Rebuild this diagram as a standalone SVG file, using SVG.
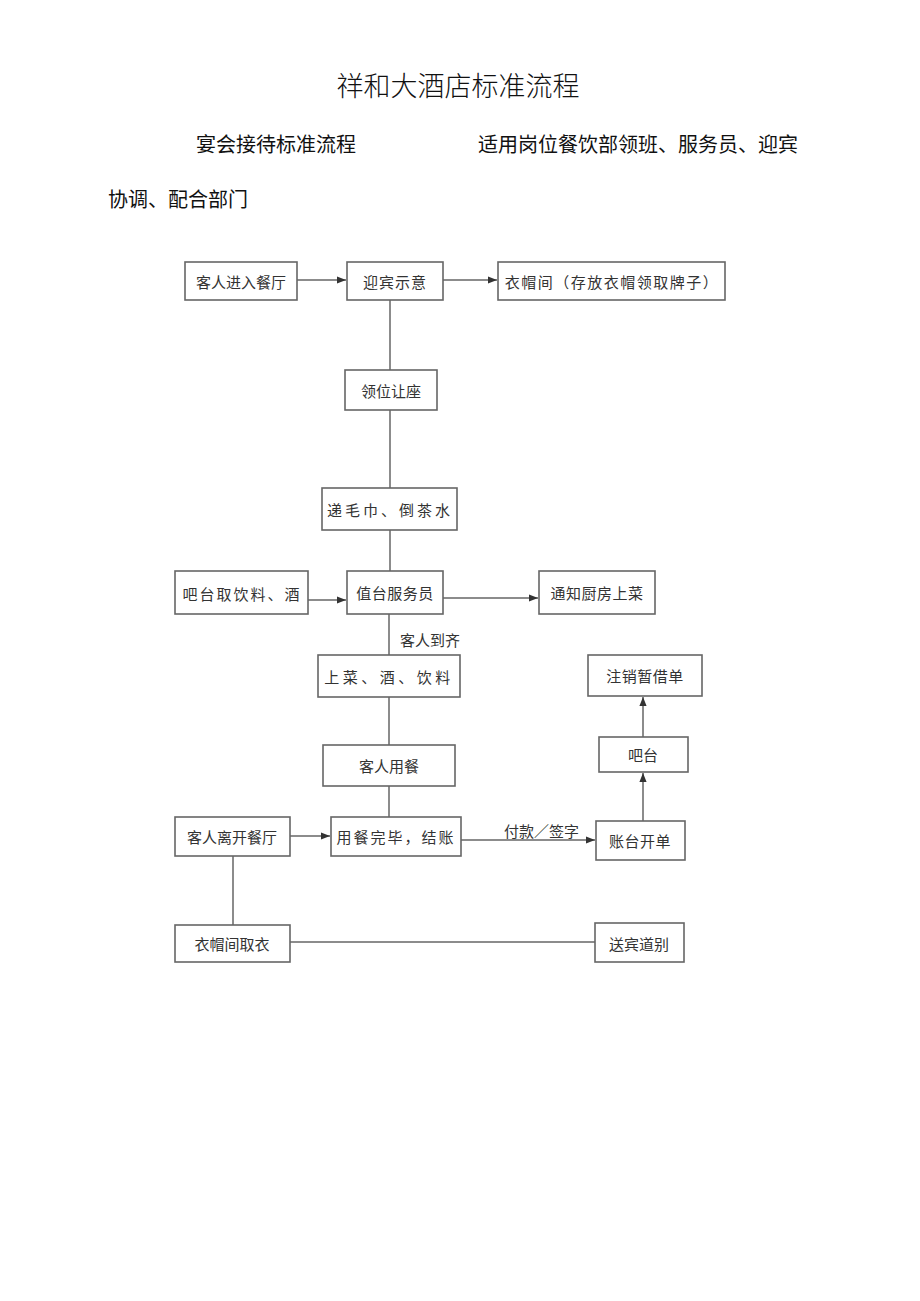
<svg xmlns="http://www.w3.org/2000/svg" width="920" height="1301" viewBox="0 0 920 1301">
<defs>
<marker id="ah" viewBox="0 0 10 10" refX="10" refY="5" markerWidth="9" markerHeight="9" markerUnits="userSpaceOnUse" orient="auto"><path d="M0,1 L10,5 L0,9 Z" fill="#333"/></marker>
<style>
.hd{font-family:"Noto Sans CJK SC","Liberation Sans",sans-serif;fill:#111;}
.box{fill:#fff;stroke:#666;stroke-width:1.6;}
.t{font-family:"Noto Sans CJK SC","Liberation Serif",serif;font-size:15px;fill:#333;text-anchor:middle;dominant-baseline:central;}
.ln{stroke:#666;stroke-width:1.5;fill:none;}
.lb{font-family:"Noto Sans CJK SC","Liberation Serif",serif;font-size:15px;fill:#333;}
</style>
</defs>
<rect width="920" height="1301" fill="#fff"/>
<text class="hd" x="458" y="96" font-size="27" text-anchor="middle" font-weight="300">祥和大酒店标准流程</text>
<text class="hd" x="196" y="152" font-size="20">宴会接待标准流程</text>
<text class="hd" x="478" y="152" font-size="20">适用岗位餐饮部领班、服务员、迎宾</text>
<text class="hd" x="108" y="207" font-size="20">协调、配合部门</text>

<g id="connectors">
<line class="ln" x1="297" y1="280" x2="346" y2="280" marker-end="url(#ah)"/>
<line class="ln" x1="443" y1="280" x2="497" y2="280" marker-end="url(#ah)"/>
<line class="ln" x1="390" y1="300" x2="390" y2="370"/>
<line class="ln" x1="390" y1="410" x2="390" y2="488"/>
<line class="ln" x1="390" y1="530" x2="390" y2="571"/>
<line class="ln" x1="308" y1="600" x2="346" y2="600" marker-end="url(#ah)"/>
<line class="ln" x1="443" y1="598" x2="538" y2="598" marker-end="url(#ah)"/>
<line class="ln" x1="389" y1="614" x2="389" y2="655"/>
<text class="lb" x="400" y="646">客人到齐</text>
<line class="ln" x1="389" y1="697" x2="389" y2="745"/>
<line class="ln" x1="389" y1="786" x2="389" y2="817"/>
<line class="ln" x1="290" y1="836" x2="330" y2="836" marker-end="url(#ah)"/>
<line class="ln" x1="461" y1="840" x2="595" y2="840" marker-end="url(#ah)"/>
<text class="lb" x="504" y="837">付款／签字</text>
<line class="ln" x1="643" y1="821" x2="643" y2="773" marker-end="url(#ah)"/>
<line class="ln" x1="643" y1="737" x2="643" y2="697" marker-end="url(#ah)"/>
<line class="ln" x1="233" y1="856" x2="233" y2="925"/>
<line class="ln" x1="290" y1="942" x2="595" y2="942"/>
</g>

<g id="n1"><rect class="box" x="185" y="262" width="112" height="38"/><text class="t" x="241" y="281">客人进入餐厅</text></g>
<g id="n2"><rect class="box" x="347" y="262" width="96" height="38"/><text class="t" x="395" y="281" letter-spacing="1">迎宾示意</text></g>
<g id="n3"><rect class="box" x="498" y="262" width="227" height="38"/><text class="t" x="612" y="281" letter-spacing="1.5">衣帽间（存放衣帽领取牌子）</text></g>
<g id="n4"><rect class="box" x="345" y="370" width="92" height="40"/><text class="t" x="391" y="390">领位让座</text></g>
<g id="n5"><rect class="box" x="322" y="488" width="135" height="42"/><text class="t" x="390" y="509" letter-spacing="3">递毛巾、倒茶水</text></g>
<g id="n6"><rect class="box" x="175" y="571" width="133" height="43"/><text class="t" x="242" y="593" letter-spacing="2">吧台取饮料、酒</text></g>
<g id="n7"><rect class="box" x="347" y="571" width="96" height="43"/><text class="t" x="395" y="592" letter-spacing="0.5">值台服务员</text></g>
<g id="n8"><rect class="box" x="539" y="571" width="116" height="43"/><text class="t" x="597" y="592" letter-spacing="0.5">通知厨房上菜</text></g>
<g id="n9"><rect class="box" x="318" y="655" width="142" height="42"/><text class="t" x="389" y="676" letter-spacing="3.5">上菜、酒、饮料</text></g>
<g id="n10"><rect class="box" x="588" y="655" width="114" height="41"/><text class="t" x="645" y="675" letter-spacing="0.5">注销暂借单</text></g>
<g id="n11"><rect class="box" x="599" y="737" width="89" height="35"/><text class="t" x="643" y="754">吧台</text></g>
<g id="n12"><rect class="box" x="323" y="745" width="132" height="41"/><text class="t" x="389" y="765">客人用餐</text></g>
<g id="n13"><rect class="box" x="175" y="817" width="115" height="39"/><text class="t" x="232" y="836">客人离开餐厅</text></g>
<g id="n14"><rect class="box" x="331" y="817" width="130" height="39"/><text class="t" x="396" y="836" letter-spacing="2">用餐完毕，结账</text></g>
<g id="n15"><rect class="box" x="596" y="821" width="89" height="39"/><text class="t" x="640" y="840" letter-spacing="0.5">账台开单</text></g>
<g id="n16"><rect class="box" x="175" y="925" width="115" height="37"/><text class="t" x="232" y="943">衣帽间取衣</text></g>
<g id="n17"><rect class="box" x="595" y="923" width="89" height="39"/><text class="t" x="639" y="943">送宾道别</text></g>
</svg>
